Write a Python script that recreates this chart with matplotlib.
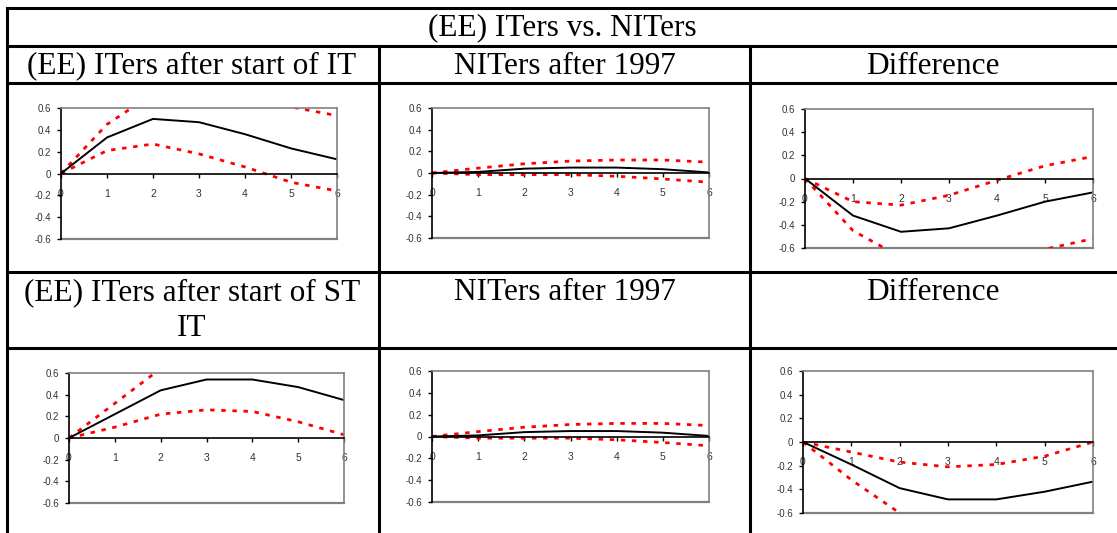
import numpy as np
import matplotlib
matplotlib.use("Agg")
import matplotlib.pyplot as plt

# horizon (periods after the shock)
steps = [0, 1, 2, 3, 4, 5, 6]
yticks = [-0.6, -0.4, -0.2, 0, 0.2, 0.4, 0.6]
ytick_labels = ["-0.6", "-0.4", "-0.2", "0", "0.2", "0.4", "0.6"]

# ITers after start of IT
it_mid = [0, 0.33, 0.50, 0.47, 0.36, 0.23, 0.13]
it_up = [0, 0.45, 0.73, 0.80, 0.72, 0.61, 0.53]
it_lo = [0, 0.21, 0.27, 0.18, 0.06, -0.08, -0.16]

# NITers after 1997
nit_mid = [0, 0.01, 0.04, 0.05, 0.05, 0.035, 0.005]
nit_up = [0, 0.045, 0.085, 0.11, 0.12, 0.12, 0.10]
nit_lo = [0, -0.015, -0.015, -0.015, -0.03, -0.055, -0.085]

# difference, IT
d1_mid = [0, -0.32, -0.46, -0.43, -0.32, -0.20, -0.12]
d1_up = [0, -0.20, -0.23, -0.145, -0.015, 0.11, 0.19]
d1_lo = [0, -0.45, -0.68, -0.78, -0.75, -0.61, -0.52]

# ITers after start of ST IT
st_mid = [0, 0.22, 0.44, 0.54, 0.54, 0.47, 0.35]
st_up = [0, 0.32, 0.64, 0.80, 0.85, 0.82, 0.75]
st_lo = [0, 0.10, 0.22, 0.26, 0.245, 0.15, 0.03]

# difference, ST IT
d2_mid = [0, -0.19, -0.39, -0.485, -0.485, -0.42, -0.335]
d2_up = [0, -0.085, -0.17, -0.21, -0.19, -0.12, 0.0]
d2_lo = [0, -0.32, -0.60, -0.85, -0.95, -0.95, -0.90]

W, H = 1117, 533
fig = plt.figure(figsize=(W / 100, H / 100), dpi=100)

# table grid drawn in pixel space
bg = fig.add_axes([0, 0, 1, 1])
bg.set_xlim(0, W)
bg.set_ylim(H, 0)
bg.axis("off")
lw_tab = 2.2
for y in [8, 46, 83, 272, 348]:
    bg.plot([7, W], [y, y], color="black", lw=lw_tab, solid_capstyle="butt")
bg.plot([7, 7], [8, H], color="black", lw=lw_tab)
bg.plot([379, 379], [46, H], color="black", lw=lw_tab)
bg.plot([750, 750], [46, H], color="black", lw=lw_tab)

serif = dict(family="Liberation Serif", fontsize=22.5, color="black",
             ha="center", va="center")
bg.text(562, 28, "(EE) ITers vs. NITers", **serif)
bg.text(192, 66, "(EE) ITers after start of IT", **serif)
bg.text(565, 66, "NITers after 1997", **serif)
bg.text(933, 66, "Difference", **serif)
bg.text(192, 293, "(EE) ITers after start of ST", **serif)
bg.text(192, 329, "IT", **serif)
bg.text(565, 293, "NITers after 1997", **serif)
bg.text(933, 293, "Difference", **serif)


def panel(box, mid, up, lo):
    left, top, right, bottom = box
    ax = fig.add_axes([left / W, 1 - bottom / H, (right - left) / W, (bottom - top) / H])
    ax.plot(steps, up, color="red", lw=2, linestyle=(0, (1.6, 2.4)))
    ax.plot(steps, lo, color="red", lw=2, linestyle=(0, (1.6, 2.4)))
    ax.plot(steps, mid, color="black", lw=1.4)
    ax.set_xlim(0, 6)
    ax.set_ylim(-0.6, 0.6)
    for s in ["top", "right"]:
        ax.spines[s].set_color("#808080")
        ax.spines[s].set_linewidth(1.2)
    ax.spines["left"].set_color("black")
    ax.spines["left"].set_linewidth(1.2)
    ax.spines["bottom"].set_position(("data", 0))
    ax.spines["bottom"].set_color("black")
    ax.spines["bottom"].set_linewidth(1.2)
    ax.axhline(-0.6, color="#808080", lw=1.6, clip_on=False, zorder=0)
    ax.set_yticks(yticks)
    ax.set_yticklabels(ytick_labels)
    ax.set_xticks(steps)
    ax.set_xticklabels([str(s) for s in steps])
    ax.tick_params(axis="y", direction="out", length=3, width=1,
                   labelsize=7, labelcolor="#333333", pad=4)
    ax.tick_params(axis="x", direction="out", length=3, width=1,
                   labelsize=7.5, labelcolor="#333333", pad=8)
    for lab in ax.get_xticklabels() + ax.get_yticklabels():
        lab.set_family("Liberation Sans")
    return ax


panel((61, 108, 337, 239), it_mid, it_up, it_lo)
panel((432, 108, 709, 238), nit_mid, nit_up, nit_lo)
panel((805, 109, 1093, 248), d1_mid, d1_up, d1_lo)
panel((69, 373, 344, 503), st_mid, st_up, st_lo)
panel((432, 371, 709, 502), nit_mid, nit_up, nit_lo)
panel((803, 371, 1093, 513), d2_mid, d2_up, d2_lo)

fig.savefig("out.png", dpi=100)
